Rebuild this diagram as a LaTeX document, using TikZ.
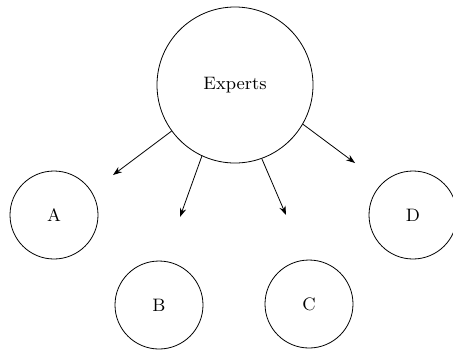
\documentclass[tikz,border=0pt]{standalone}
\usetikzlibrary{arrows.meta}
\begin{document}
\begin{tikzpicture}
[x=0.5pt,y=-0.5pt,
group/.style={draw,circle,font=\small},
big/.style={group,minimum size=78pt},
small/.style={group,minimum size=44pt},
arr/.style={-{Stealth[length=4.5pt,width=3.2pt]}}]
\useasboundingbox (0,0) rectangle (453,349);
\node[big] (experts) at (235,85) {Experts};
\node[small] (a) at (54,215) {A};
\node[small] (b) at (159,305) {B};
\node[small] (c) at (309,304) {C};
\node[small] (d) at (413,215) {D};
% arrow ends
\coordinate (toa) at (113,175);
\coordinate (tob) at (180,217);
\coordinate (toc) at (286,215);
\coordinate (tod) at (355,163);
\draw[arr] (experts.216.7) -- (toa);
\draw[arr] (experts.245.4) -- (tob);
\draw[arr] (experts.290.6) -- (toc);
\draw[arr] (experts.330.4) -- (tod);
\end{tikzpicture}
\end{document}
